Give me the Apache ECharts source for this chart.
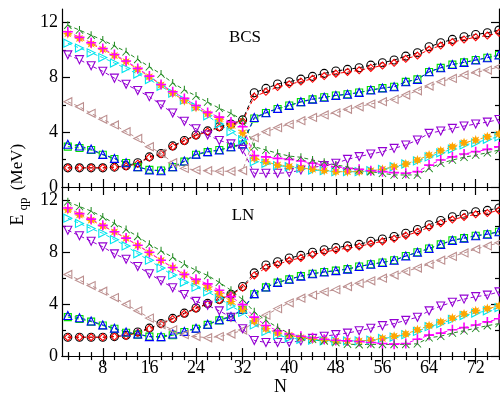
<!DOCTYPE html>
<html><head><meta charset="utf-8">
<script src="https://cdn.jsdelivr.net/npm/echarts@6/dist/echarts.min.js"></script>
<style>html,body{margin:0;padding:0;background:#fff}#c{width:500px;height:397px}</style>
</head><body><div id="c"></div>
<script>
const N = [2,4,6,8,10,12,14,16,18,20,22,24,26,28,30,32,34,36,38,40,42,44,46,48,50,52,54,56,58,60,62,64,66,68,70,72,74,76];
const xMajor = [8,16,24,32,40,48,56,64,72];
const xMinor = [2,4,6,10,12,14,18,20,22,26,28,30,34,36,38,42,44,46,50,52,54,58,60,62,66,68,70,74,76];
const yMajor = [0,4,8,12];
const yMinor = [2,6,10];

// BCS panel
const bcsBlack = [1.4,1.4,1.4,1.4,1.45,1.55,1.77,2.2,2.45,3.0,3.4,3.8,4.1,4.4,4.6,4.9,6.88,7.2,7.52,7.69,7.88,8.08,8.3,8.47,8.59,8.71,8.9,9.07,9.27,9.56,9.8,10.24,10.53,10.78,10.97,11.14,11.26,11.46];
const bcsRed = [1.4,1.4,1.4,1.4,1.45,1.5,1.7,2.15,2.4,2.95,3.35,3.75,4.05,4.35,4.55,4.8,6.6,6.95,7.3,7.5,7.7,7.9,8.1,8.28,8.4,8.52,8.7,8.87,9.07,9.36,9.6,10.04,10.33,10.58,10.77,10.94,11.06,11.26];
const bcsGreen = [2.95,2.85,2.7,2.35,2.05,1.75,1.45,1.25,1.2,1.45,1.85,2.35,2.55,2.7,2.9,3.1,5.0,5.4,5.7,5.95,6.2,6.4,6.55,6.68,6.77,6.9,7.08,7.22,7.32,7.68,7.86,8.4,8.7,8.94,9.1,9.27,9.44,9.64];
const bcsBlue = [3.12,2.99,2.77,2.38,2.09,1.77,1.48,1.24,1.19,1.48,1.9,2.4,2.58,2.7,2.94,3.15,5.08,5.42,5.74,5.96,6.23,6.42,6.55,6.69,6.77,6.91,7.08,7.23,7.32,7.69,7.86,8.42,8.71,8.95,9.1,9.27,9.44,9.64];
const bcsBrown = [6.23,5.86,5.38,4.94,4.53,4.04,3.55,2.94,2.46,1.77,1.36,1.24,1.19,1.15,1.15,1.2,3.6,4.04,4.33,4.58,4.84,5.08,5.26,5.42,5.67,5.86,6.06,6.23,6.4,6.72,7.03,7.37,7.69,7.93,8.18,8.37,8.54,8.78];
const bcsPurple = [9.65,9.3,8.85,8.45,7.95,7.5,7.05,6.6,6.0,5.4,4.8,4.25,3.8,3.4,3.15,2.75,1.0,1.0,1.0,1.05,1.24,1.43,1.56,1.73,2.02,2.22,2.41,2.58,2.82,3.07,3.43,3.92,4.09,4.28,4.45,4.6,4.74,4.93];
const bcsCyan = [10.5,10.15,9.8,9.45,9.05,8.65,8.25,7.85,7.35,6.85,6.35,5.85,5.2,4.6,4.05,3.45,1.85,1.73,1.56,1.48,1.36,1.24,1.19,1.12,1.12,1.12,1.19,1.29,1.48,1.68,1.9,2.2,2.5,2.77,3.07,3.23,3.48,3.67];
const bcsOrange = [11.2,10.85,10.45,10.05,9.6,9.15,8.6,8.05,7.45,6.85,6.3,5.8,5.35,4.95,4.5,3.95,2.1,1.85,1.6,1.5,1.39,1.3,1.2,1.12,1.12,1.12,1.19,1.29,1.48,1.68,1.97,2.33,2.65,2.94,3.23,3.43,3.67,3.87];
const bcsMagenta = [11.34,10.93,10.53,10.12,9.68,9.2,8.66,8.1,7.49,6.96,6.47,5.95,5.45,5.1,4.75,4.4,2.3,2.2,2.09,2.02,1.9,1.73,1.6,1.48,1.36,1.29,1.19,1.12,1.05,1.0,1.12,1.6,1.97,2.2,2.41,2.58,2.75,2.94];
const bcsDkGreen = [11.82,11.46,11.09,10.73,10.31,9.88,9.32,8.78,8.25,7.6,7.1,6.65,6.2,5.75,5.38,4.9,2.94,2.7,2.46,2.26,2.17,1.97,1.8,1.6,1.48,1.24,1.12,1.0,0.88,0.88,0.88,1.36,1.73,1.97,2.17,2.33,2.5,2.7];

// LN panel
const lnBlack = [1.45,1.45,1.45,1.45,1.5,1.6,1.85,2.15,2.5,2.9,3.3,3.7,4.05,4.35,4.75,5.35,6.4,7.0,7.25,7.54,7.74,7.98,8.18,8.34,8.47,8.59,8.83,9.0,9.2,9.44,9.73,10.1,10.42,10.71,10.9,11.1,11.2,11.39];
const lnRed = [1.45,1.45,1.45,1.45,1.5,1.55,1.8,2.1,2.45,2.85,3.25,3.65,4.0,4.3,4.7,5.25,6.2,6.8,7.05,7.35,7.55,7.8,8.0,8.16,8.3,8.42,8.65,8.82,9.02,9.26,9.55,9.9,10.22,10.5,10.7,10.9,11.0,11.2];
const lnGreen = [3.0,2.85,2.65,2.35,2.1,1.8,1.65,1.5,1.45,1.6,1.85,2.1,2.4,2.75,3.0,3.55,4.75,5.28,5.65,5.9,6.15,6.33,6.47,6.57,6.69,6.89,7.06,7.2,7.37,7.69,7.98,8.27,8.59,8.9,9.07,9.25,9.37,9.56];
const lnBlue = [3.12,2.95,2.7,2.4,2.15,1.85,1.7,1.5,1.5,1.7,1.9,2.15,2.45,2.8,3.05,3.6,4.8,5.31,5.67,5.91,6.15,6.33,6.47,6.57,6.69,6.89,7.06,7.2,7.37,7.69,7.98,8.27,8.59,8.9,9.07,9.25,9.37,9.56];
const lnBrown = [6.28,5.84,5.42,4.99,4.5,3.97,3.48,2.92,2.43,2.02,1.65,1.5,1.41,1.5,1.7,2.0,2.6,3.15,3.65,4.1,4.45,4.69,4.94,5.11,5.35,5.6,5.79,5.99,6.23,6.52,6.77,7.06,7.37,7.66,7.93,8.22,8.47,8.71];
const lnPurple = [9.68,9.25,8.83,8.4,7.86,7.45,6.89,6.33,5.79,5.26,4.74,4.21,3.9,3.48,2.99,2.1,1.2,1.05,1.05,1.05,1.17,1.36,1.53,1.65,1.77,1.95,2.14,2.34,2.5,2.75,2.99,3.48,3.85,4.14,4.38,4.57,4.69,4.94];
const lnCyan = [10.6,10.2,9.8,9.44,8.95,8.47,7.86,7.37,6.77,6.23,5.67,5.3,4.94,4.45,3.85,3.36,2.4,1.9,1.6,1.41,1.29,1.22,1.17,1.17,1.17,1.17,1.22,1.36,1.46,1.65,1.9,2.26,2.5,2.82,3.12,3.31,3.48,3.73];
const lnOrange = [11.25,10.85,10.45,10.0,9.55,9.05,8.5,7.95,7.35,6.8,6.25,5.75,5.3,4.8,4.2,3.6,2.7,2.1,1.77,1.6,1.41,1.29,1.22,1.17,1.17,1.17,1.22,1.36,1.53,1.7,2.02,2.34,2.63,2.92,3.24,3.48,3.65,3.85];
const lnMagenta = [11.39,10.95,10.53,10.05,9.56,9.07,8.52,7.98,7.37,6.81,6.28,5.9,5.55,5.06,4.57,3.96,3.0,2.35,1.95,1.7,1.53,1.41,1.29,1.22,1.17,1.12,1.05,0.97,0.92,0.97,1.29,1.61,1.77,2.02,2.19,2.39,2.63,2.87];
const lnDkGreen = [11.87,11.5,11.15,10.7,10.2,9.73,9.2,8.59,8.1,7.6,7.06,6.6,6.2,5.67,5.06,4.35,3.4,2.75,2.2,1.75,1.46,1.29,1.17,1.05,0.92,0.88,0.9,0.9,0.9,0.9,0.95,1.41,1.53,1.77,1.95,2.14,2.34,2.5];

const FONT = 'Liberation Serif';
const PLUS = 'path://M0.42,0 H0.58 V0.42 H1 V0.58 H0.58 V1 H0.42 V0.58 H0 V0.42 H0.42 Z';
const STAR = 'path://M0.5,0 L0.6,0.26 L0.85,0.15 L0.74,0.4 L1,0.5 L0.74,0.6 L0.85,0.85 L0.6,0.74 L0.5,1 L0.4,0.74 L0.15,0.85 L0.26,0.6 L0,0.5 L0.26,0.4 L0.15,0.15 L0.4,0.26 Z';
const TRI3 = 'path://M0.44,0 H0.56 V0.46 L0.96,0.93 L0.88,1 L0.5,0.56 L0.12,1 L0.04,0.93 L0.44,0.46 Z';

const styles = [
  {key:'Black', color:'#000000', symbol:'circle', size:8, open:true, rot:0},
  {key:'Red', color:'#ff0000', symbol:'diamond', size:7, open:true, rot:0},
  {key:'Green', color:'#00e000', symbol:'rect', size:7, open:true, rot:0},
  {key:'Blue', color:'#0000ff', symbol:'triangle', size:8, open:true, rot:0},
  {key:'Brown', color:'#bc8f8f', symbol:'triangle', size:8, open:true, rot:90},
  {key:'Purple', color:'#9400d3', symbol:'triangle', size:8, open:true, rot:180},
  {key:'Cyan', color:'#00e5ee', symbol:'triangle', size:8, open:true, rot:-90},
  {key:'Orange', color:'#ffa500', symbol:STAR, size:10, open:false, rot:0},
  {key:'Magenta', color:'#ff00ff', symbol:PLUS, size:10, open:false, rot:0},
  {key:'DkGreen', color:'#228b22', symbol:TRI3, size:8, open:false, rot:0}
];
const panels = [
  {Black:bcsBlack, Red:bcsRed, Green:bcsGreen, Blue:bcsBlue, Brown:bcsBrown, Purple:bcsPurple, Cyan:bcsCyan, Orange:bcsOrange, Magenta:bcsMagenta, DkGreen:bcsDkGreen},
  {Black:lnBlack, Red:lnRed, Green:lnGreen, Blue:lnBlue, Brown:lnBrown, Purple:lnPurple, Cyan:lnCyan, Orange:lnOrange, Magenta:lnMagenta, DkGreen:lnDkGreen}
];

const grids = [
  {left:62, top:9, width:437, height:178},
  {left:62, top:187, width:437, height:179}
];
const xAxis = [], yAxis = [], series = [];
const lineAx = {show:true, lineStyle:{color:'#000', width:1.2}};
grids.forEach((g, gi) => {
  const base = {gridIndex:gi, type:'value', min:1, max:76, splitLine:{show:false}};
  xAxis.push(Object.assign({}, base, {position:'bottom', axisLine:lineAx,
    axisTick:{inside:true, length:8, customValues:xMajor, lineStyle:{color:'#000', width:1.2}},
    axisLabel:{show:gi===1, customValues:xMajor, fontFamily:FONT, fontSize:18, color:'#000', margin:3},
    name: gi===1 ? 'N' : '', nameLocation:'middle', nameGap:19,
    nameTextStyle:{fontFamily:FONT, fontSize:18, color:'#000'}}));
  xAxis.push(Object.assign({}, base, {position:'bottom', axisLine:{show:false},
    axisTick:{inside:true, length:4, customValues:xMinor, lineStyle:{color:'#000', width:1.2}},
    axisLabel:{show:false, customValues:xMinor}}));
  xAxis.push(Object.assign({}, base, {position:'top', axisLine:lineAx,
    axisTick:{inside:true, length:8, customValues:xMajor, lineStyle:{color:'#000', width:1.2}},
    axisLabel:{show:false, customValues:xMajor}}));
  xAxis.push(Object.assign({}, base, {position:'top', axisLine:{show:false},
    axisTick:{inside:true, length:4, customValues:xMinor, lineStyle:{color:'#000', width:1.2}},
    axisLabel:{show:false, customValues:xMinor}}));
  const yb = {gridIndex:gi, type:'value', min:0, max:13, splitLine:{show:false}};
  yAxis.push(Object.assign({}, yb, {position:'left', axisLine:lineAx,
    axisTick:{inside:true, length:8, customValues:yMajor, lineStyle:{color:'#000', width:1.2}},
    axisLabel:{customValues:yMajor, fontFamily:FONT, fontSize:18, color:'#000', margin:4}}));
  yAxis.push(Object.assign({}, yb, {position:'left', axisLine:{show:false},
    axisTick:{inside:true, length:4, customValues:yMinor, lineStyle:{color:'#000', width:1.2}},
    axisLabel:{show:false, customValues:yMinor}}));
  yAxis.push(Object.assign({}, yb, {position:'right', axisLine:lineAx,
    axisTick:{inside:true, length:8, customValues:yMajor, lineStyle:{color:'#000', width:1.2}},
    axisLabel:{show:false, customValues:yMajor}}));
  yAxis.push(Object.assign({}, yb, {position:'right', axisLine:{show:false},
    axisTick:{inside:true, length:4, customValues:yMinor, lineStyle:{color:'#000', width:1.2}},
    axisLabel:{show:false, customValues:yMinor}}));

  styles.forEach(s => {
    const vals = panels[gi][s.key];
    series.push({
      type:'line', xAxisIndex:gi*4, yAxisIndex:gi*4,
      data: N.map((n, i) => [n, vals[i]]),
      symbol:s.symbol, symbolSize:s.size, symbolRotate:s.rot, showAllSymbol:true,
      lineStyle:{color:s.color, width:1, type:[4,3]},
      itemStyle: s.open ? {color:'rgba(0,0,0,0)', borderColor:s.color, borderWidth:1.1}
                        : {color:s.color, borderWidth:0},
      emphasis:{disabled:true}, silent:true, clip:false
    });
  });
});

const chart = echarts.init(document.getElementById('c'), null, {renderer:'canvas'});
chart.setOption({
  animation:false,
  backgroundColor:'#fff',
  grid:grids, xAxis, yAxis, series,
  graphic:[
    {type:'text', x:245, y:38, style:{text:'BCS', font:'17px "Liberation Serif"', fill:'#000', align:'center', verticalAlign:'middle'}},
    {type:'text', x:243, y:216, style:{text:'LN', font:'17px "Liberation Serif"', fill:'#000', align:'center', verticalAlign:'middle'}},
    {type:'text', x:18, y:220, rotation:Math.PI/2, style:{text:'E', font:'18px "Liberation Serif"', fill:'#000', align:'center', verticalAlign:'middle'}},
    {type:'text', x:24, y:204, rotation:Math.PI/2, style:{text:'qp', font:'13px "Liberation Serif"', fill:'#000', align:'center', verticalAlign:'middle'}},
    {type:'text', x:18, y:167, rotation:Math.PI/2, style:{text:'(MeV)', font:'17px "Liberation Serif"', fill:'#000', align:'center', verticalAlign:'middle'}}
  ]
});
</script></body></html>
